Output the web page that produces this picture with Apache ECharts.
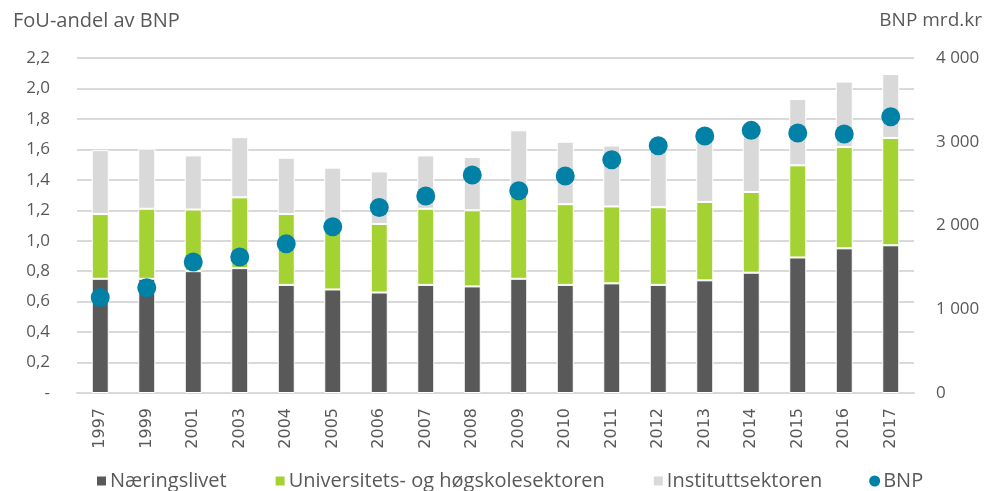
<!DOCTYPE html>
<html>
<head>
<meta charset="utf-8">
<script src="https://cdn.jsdelivr.net/npm/echarts@6/dist/echarts.min.js"></script>
<style>
html,body{margin:0;padding:0;background:#fff;}
#chart{width:994px;height:491px;}
</style>
</head>
<body>
<div id="chart"></div>
<script>
// årstall og verdier lest av figuren
var years = ['1997','1999','2001','2003','2004','2005','2006','2007','2008','2009','2010','2011','2012','2013','2014','2015','2016','2017'];
var naeringslivet = [0.75,0.75,0.80,0.82,0.71,0.68,0.66,0.71,0.70,0.75,0.71,0.72,0.71,0.74,0.79,0.89,0.95,0.97];
var universitet = [0.425,0.46,0.405,0.465,0.465,0.42,0.45,0.50,0.50,0.55,0.53,0.505,0.51,0.515,0.53,0.605,0.665,0.705];
var institutt = [0.42,0.395,0.355,0.395,0.37,0.38,0.345,0.35,0.35,0.425,0.41,0.40,0.41,0.435,0.40,0.435,0.43,0.42];
var bnp = [1141,1257,1564,1624,1783,1986,2216,2352,2603,2416,2591,2786,2953,3069,3136,3104,3092,3299];

var fontMain = '"Open Sans", sans-serif';
var txtColor = '#595959';

var chart = echarts.init(document.getElementById('chart'));
var option = {
    animation: false,
    textStyle: { fontFamily: fontMain, color: txtColor },
    title: [
        { text: 'FoU-andel av BNP', left: 8, top: 6,
          textStyle: { fontSize: 20, fontWeight: 'normal', color: txtColor, fontFamily: fontMain } },
        { text: 'BNP mrd.kr', right: 7, top: 6,
          textStyle: { fontSize: 19, fontWeight: 'normal', color: txtColor, fontFamily: fontMain } }
    ],
    legend: {
        left: 90,
        top: 466,
        itemWidth: 11,
        itemHeight: 11,
        itemGap: 47,
        textStyle: { fontSize: 20, color: txtColor, fontFamily: fontMain, padding: [0, 0, 0, -2] },
        data: [
            { name: 'Næringslivet', icon: 'rect' },
            { name: 'Universitets- og høgskolesektoren', icon: 'rect' },
            { name: 'Instituttsektoren', icon: 'rect' },
            { name: 'BNP', icon: 'circle' }
        ]
    },
    grid: { left: 77, right: 80, top: 58, bottom: 98 },
    xAxis: {
        type: 'category',
        data: years,
        axisLine: { lineStyle: { color: '#d9d9d9', width: 2 } },
        axisTick: { show: false },
        axisLabel: { rotate: 90, margin: 15, fontSize: 16, color: txtColor, fontFamily: '"DejaVu Sans", sans-serif' }
    },
    yAxis: [
        {
            type: 'value', min: 0, max: 2.2, interval: 0.2,
            axisLine: { show: false }, axisTick: { show: false },
            splitLine: { lineStyle: { color: '#d9d9d9', width: 2 } },
            axisLabel: {
                margin: 27, fontSize: 17, color: txtColor,
                formatter: function (v) { return v === 0 ? '-' : v.toFixed(1).replace('.', ','); }
            }
        },
        {
            type: 'value', min: 0, max: 4000, interval: 1000,
            axisLine: { show: false }, axisTick: { show: false },
            splitLine: { show: false },
            axisLabel: {
                margin: 22, fontSize: 17, color: txtColor,
                formatter: function (v) { return String(v).replace(/\B(?=(\d{3})+(?!\d))/g, ' '); }
            }
        }
    ],
    series: [
        { name: 'Næringslivet', type: 'bar', stack: 'fou', barWidth: 17, data: naeringslivet,
          itemStyle: { color: '#595959', borderColor: '#fff', borderWidth: 1 } },
        { name: 'Universitets- og høgskolesektoren', type: 'bar', stack: 'fou', data: universitet,
          itemStyle: { color: '#a5d233', borderColor: '#fff', borderWidth: 1 } },
        { name: 'Instituttsektoren', type: 'bar', stack: 'fou', data: institutt,
          itemStyle: { color: '#d9d9d9', borderColor: '#fff', borderWidth: 1 } },
        { name: 'BNP', type: 'scatter', yAxisIndex: 1, data: bnp, symbolSize: 19,
          itemStyle: { color: '#0181a5', opacity: 1 } }
    ]
};
chart.setOption(option);
</script>
</body>
</html>
